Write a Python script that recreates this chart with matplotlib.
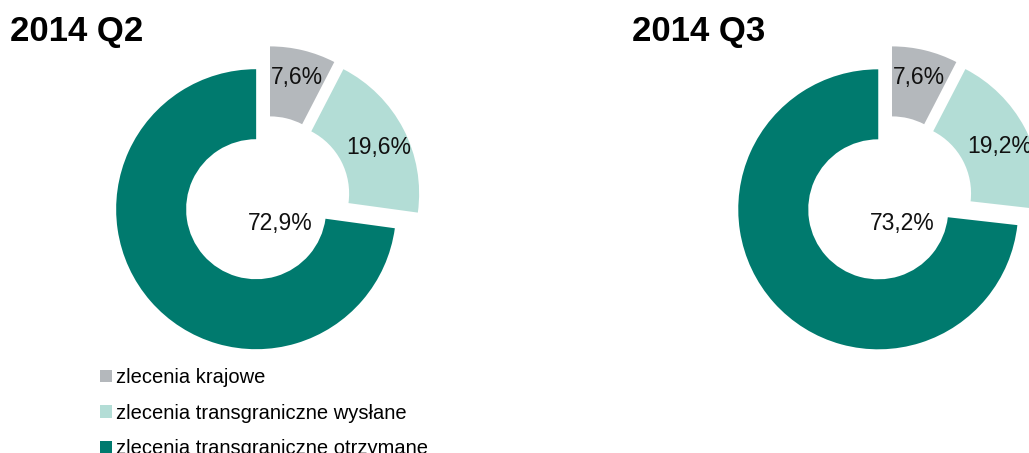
import matplotlib.pyplot as plt

plt.rcParams['font.family'] = ['Liberation Sans', 'DejaVu Sans']

# share of payment orders per quarter (%)
categories = ['zlecenia krajowe',
              'zlecenia transgraniczne wysłane',
              'zlecenia transgraniczne otrzymane']
quarters = ['2014 Q2', '2014 Q3']
q2_values = [7.6, 19.6, 72.9]
q3_values = [7.6, 19.2, 73.2]
colors = ['#b4b8bc', '#b3ddd6', '#007a6e']

W, H = 1029, 453
R_PX = 140.0  # outer radius in pixels


def fmt(v):
    return f'{v:.1f}%'.replace('.', ',')


fig = plt.figure(figsize=(W / 100, H / 100), dpi=100)

handles = None
for i, (name, vals) in enumerate(zip(quarters, [q2_values, q3_values])):
    cx = 266.7 + i * 622
    cy = H - 200
    box = 400
    ax = fig.add_axes([(cx - box / 2) / W, (cy - box / 2) / H, box / W, box / H])
    wedges, texts = ax.pie(vals, colors=colors, startangle=90, counterclock=False,
                           explode=[0.1] * len(vals),
                           labels=[fmt(v) for v in vals], labeldistance=0.8,
                           wedgeprops=dict(width=0.5, linewidth=0),
                           textprops=dict(ha='center', va='center', fontsize=16.5,
                                          color='#111111'))
    # nudge the light label down a little, big share goes inside the hole
    x, y = texts[1].get_position()
    texts[1].set_position((x, y - 0.04))
    texts[-1].set_position((0.1, -0.17))
    lim = box / 2 / R_PX
    ax.set_xlim(-lim, lim)
    ax.set_ylim(-lim, lim)
    ax.axis('off')
    fig.text((cx - 256.7) / W, 1 - 32 / H, name, fontsize=25, fontweight='bold',
             ha='left', va='center')
    if handles is None:
        handles = wedges

fig.legend(handles, categories, loc='upper left',
           bbox_to_anchor=(100 / W, 1 - 368 / H), frameon=False,
           fontsize=14.5, borderpad=0, borderaxespad=0,
           handlelength=0.6, handleheight=0.6, handletextpad=0.2,
           labelspacing=0.82)

fig.savefig('out.png', dpi=100)
